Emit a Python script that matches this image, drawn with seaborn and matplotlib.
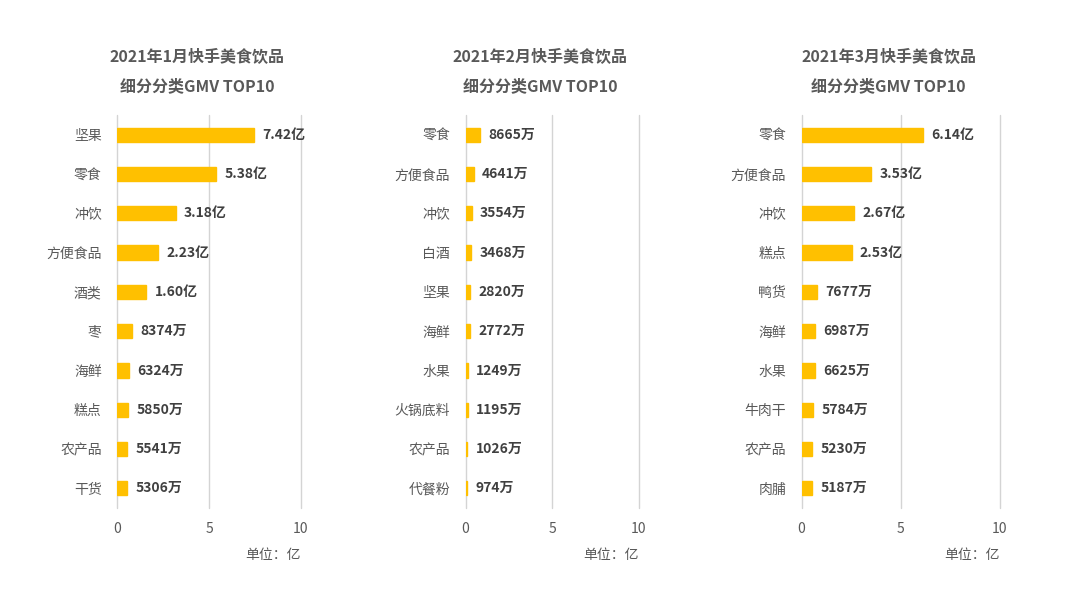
import matplotlib
matplotlib.use("Agg")
import matplotlib.pyplot as plt
import seaborn as sns
import pandas as pd

sns.set_theme(style="white")
plt.rcParams['font.family'] = ['Noto Sans CJK SC', 'DejaVu Sans']

titles = ["2021年1月快手美食饮品\n细分分类GMV TOP10",
          "2021年2月快手美食饮品\n细分分类GMV TOP10",
          "2021年3月快手美食饮品\n细分分类GMV TOP10"]

cats_jan = ["坚果", "零食", "冲饮", "方便食品", "酒类", "枣", "海鲜", "糕点", "农产品", "干货"]
vals_jan = [7.42, 5.38, 3.18, 2.23, 1.60, 0.8374, 0.6324, 0.5850, 0.5541, 0.5306]
labels_jan = ["7.42亿", "5.38亿", "3.18亿", "2.23亿", "1.60亿", "8374万", "6324万", "5850万", "5541万", "5306万"]

cats_feb = ["零食", "方便食品", "冲饮", "白酒", "坚果", "海鲜", "水果", "火锅底料", "农产品", "代餐粉"]
vals_feb = [0.8665, 0.4641, 0.3554, 0.3468, 0.2820, 0.2772, 0.1249, 0.1195, 0.1026, 0.0974]
labels_feb = ["8665万", "4641万", "3554万", "3468万", "2820万", "2772万", "1249万", "1195万", "1026万", "974万"]

cats_mar = ["零食", "方便食品", "冲饮", "糕点", "鸭货", "海鲜", "水果", "牛肉干", "农产品", "肉脯"]
vals_mar = [6.14, 3.53, 2.67, 2.53, 0.7677, 0.6987, 0.6625, 0.5784, 0.5230, 0.5187]
labels_mar = ["6.14亿", "3.53亿", "2.67亿", "2.53亿", "7677万", "6987万", "6625万", "5784万", "5230万", "5187万"]

xticks = [0, 5, 10]
unit_text = "单位：亿"

panels = [(cats_jan, vals_jan, labels_jan), (cats_feb, vals_feb, labels_feb), (cats_mar, vals_mar, labels_mar)]
# axes rectangles in figure fractions (left, bottom, width, height)
rects = [(117/1080, 1-508/608, 184/1080, 393/608),
         (465.5/1080, 1-508/608, 173/1080, 393/608),
         (801.5/1080, 1-508/608, 198/1080, 393/608)]

fig = plt.figure(figsize=(10.8, 6.08), dpi=100)
text_col = "#595959"
bar_col = "#FFC000"

for (cats, vals, labs), rect, title in zip(panels, rects, titles):
    ax = fig.add_axes(rect)
    df = pd.DataFrame({"cat": cats, "val": vals})
    sns.barplot(data=df, x="val", y="cat", color=bar_col, width=0.36,
                orient="h", ax=ax, saturation=1, edgecolor=bar_col, linewidth=1.0)
    ax.set_xlim(0, 10)
    ax.set_ylim(9.5, -0.5)
    ax.set_xticks(xticks)
    ax.set_xticklabels([str(t) for t in xticks])
    ax.set_xlabel("")
    ax.set_ylabel("")
    for s in ax.spines.values():
        s.set_visible(False)
    ax.xaxis.grid(True, color="#d4d4d4", linewidth=1.0)
    for gl in ax.get_xgridlines():
        gl.set_clip_on(False)
    ax.set_axisbelow(True)
    ax.tick_params(axis="x", length=0, pad=10, labelsize=10, labelcolor=text_col)
    ax.tick_params(axis="y", length=0, pad=11, labelsize=10, labelcolor=text_col)
    for i, (v, lab) in enumerate(zip(vals, labs)):
        ax.annotate(lab, xy=(v, i), xytext=(6, 0), textcoords="offset points",
                    ha="left", va="center", fontsize=10, fontweight="bold", color="#404040")
    width_px = rect[2] * 1080
    ax.set_title(title, fontsize=11.5, fontweight="bold", color=text_col, linespacing=2.1,
                 pad=17, x=0.5 - 12 / width_px)
    ax.text(1.0, -0.12, unit_text, transform=ax.transAxes, ha="right", va="center",
            fontsize=10, color=text_col)

fig.savefig("out.png", dpi=100, facecolor="white")
